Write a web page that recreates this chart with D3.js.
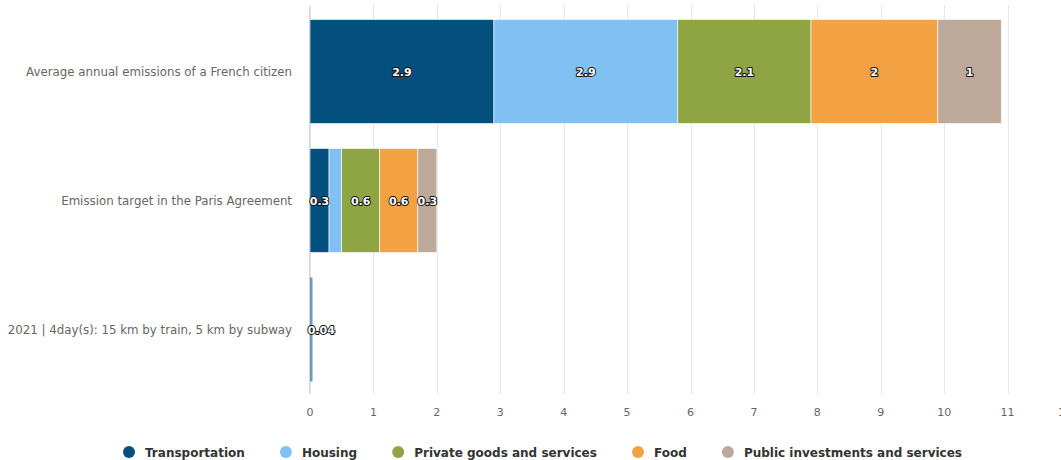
<!DOCTYPE html>
<html>
<head>
<meta charset="utf-8">
<script src="https://cdn.jsdelivr.net/npm/d3@7"></script>
<style>
  body { margin: 0; background: #fff; }
  svg { font-family: "DejaVu Sans", sans-serif; }
</style>
</head>
<body>
<div id="chart"></div>
<script>
// categories and series
var categories = [
  "Average annual emissions of a French citizen",
  "Emission target in the Paris Agreement",
  "2021 | 4day(s): 15 km by train, 5 km by subway"
];
var seriesNames = ["Transportation", "Housing", "Private goods and services", "Food", "Public investments and services"];
var colors = ["#03507f", "#80c0f2", "#8fa443", "#f3a243", "#bca99a"];
var transportation = [2.9, 0.3, 0.04];
var housing = [2.9, 0.2, 0];
var privateGoods = [2.1, 0.6, 0];
var food = [2, 0.6, 0];
var publicServices = [1, 0.3, 0];
var xTicks = [0, 1, 2, 3, 4, 5, 6, 7, 8, 9, 10, 11, 12];

var values = [transportation, housing, privateGoods, food, publicServices];

var width = 1061, height = 460;
var plotLeft = 310, plotRight = 1071, plotTop = 7, plotBottom = 394;

var svg = d3.select("#chart").append("svg")
  .attr("width", width)
  .attr("height", height);

var x = d3.scaleLinear().domain([0, 12]).range([plotLeft, plotRight]);
var y = d3.scaleBand().domain(categories).range([plotTop, plotBottom])
  .paddingInner(0.194).paddingOuter(0.097);

// gridlines
svg.append("g").selectAll("line")
  .data(xTicks)
  .enter().append("line")
  .attr("x1", function(d){ return Math.round(x(d)) + 0.5; })
  .attr("x2", function(d){ return Math.round(x(d)) + 0.5; })
  .attr("y1", plotTop - 2)
  .attr("y2", plotBottom)
  .attr("stroke", "#e6e6e6")
  .attr("stroke-width", 1);

// value axis labels (last one pushed back inside the chart edge)
svg.append("g").selectAll("text")
  .data(xTicks)
  .enter().append("text")
  .attr("x", function(d){ return Math.min(x(d), 1065); })
  .attr("y", 416)
  .attr("text-anchor", "middle")
  .attr("font-size", "11px")
  .attr("fill", "#666")
  .text(function(d){ return d; });

// stack the series
var rows = categories.map(function(c, i){
  var o = { cat: c };
  seriesNames.forEach(function(s, j){ o[s] = values[j][i]; });
  return o;
});
var stacked = d3.stack().keys(seriesNames)(rows);

var layers = svg.append("g").selectAll("g")
  .data(stacked)
  .enter().append("g")
  .attr("fill", function(d, i){ return colors[i]; });

layers.selectAll("rect")
  .data(function(d){ return d; })
  .enter().append("rect")
  .attr("x", function(d){ return x(d[0]); })
  .attr("y", function(d){ return y(d.data.cat); })
  .attr("width", function(d){ return Math.max(0, x(d[1]) - x(d[0])); })
  .attr("height", y.bandwidth())
  .attr("stroke", "#fff")
  .attr("stroke-width", function(d){ return (x(d[1]) - x(d[0])) > 3 ? 0.6 : 0; })
  .attr("opacity", function(d){ return (x(d[1]) - x(d[0])) > 3 ? 1 : 0.55; });

// category axis line
svg.append("line")
  .attr("x1", plotLeft - 0.5).attr("x2", plotLeft - 0.5)
  .attr("y1", plotTop).attr("y2", plotBottom)
  .attr("stroke", "#ccd6eb");

// category labels
svg.append("g").selectAll("text")
  .data(categories)
  .enter().append("text")
  .attr("x", 292)
  .attr("y", function(d){ return y(d) + y.bandwidth() / 2 + 4; })
  .attr("text-anchor", "end")
  .attr("font-size", "11.8px")
  .attr("fill", "#666")
  .text(function(d){ return d; });

// data labels (hidden when they do not fit)
var labels = [];
stacked.forEach(function(layer){
  layer.forEach(function(d){
    var v = d[1] - d[0];
    if (v <= 0) return;
    var w = x(d[1]) - x(d[0]);
    var txt = String(+v.toFixed(2));
    if (w < 15 && v > 0.1) return;
    labels.push({ x: (x(d[0]) + x(d[1])) / 2, y: y(d.data.cat) + y.bandwidth() / 2, t: txt, small: w < 5 });
  });
});
svg.append("g").selectAll("text")
  .data(labels)
  .enter().append("text")
  .attr("x", function(d){ return d.small ? d.x + 10 : d.x; })
  .attr("y", function(d){ return d.y + 4; })
  .attr("text-anchor", "middle")
  .attr("font-size", "11px")
  .attr("font-weight", "bold")
  .attr("fill", "#fff")
  .attr("stroke", "#111")
  .attr("stroke-width", 2)
  .attr("stroke-linejoin", "round")
  .attr("paint-order", "stroke")
  .text(function(d){ return d.t; });

// legend: items laid out in a row, spacing spread between x=123 and x=962
var legend = svg.append("g").selectAll("g")
  .data(seriesNames)
  .enter().append("g");
legend.append("circle")
  .attr("r", 6)
  .attr("fill", function(d, i){ return colors[i]; });
legend.append("text")
  .attr("x", 16)
  .attr("y", 4.5)
  .attr("font-size", "12px")
  .attr("font-weight", "bold")
  .attr("fill", "#333")
  .text(function(d){ return d; });

var widths = [];
legend.select("text").each(function(){ widths.push(this.getComputedTextLength()); });
var used = d3.sum(widths) + 16 * widths.length + 6;
var gap = (962 - 123 - used) / (widths.length - 1);
var cx = 129;
legend.attr("transform", function(d, i){
  var pos = cx;
  cx += 16 + widths[i] + gap;
  return "translate(" + pos + ",452)";
});
</script>
</body>
</html>
